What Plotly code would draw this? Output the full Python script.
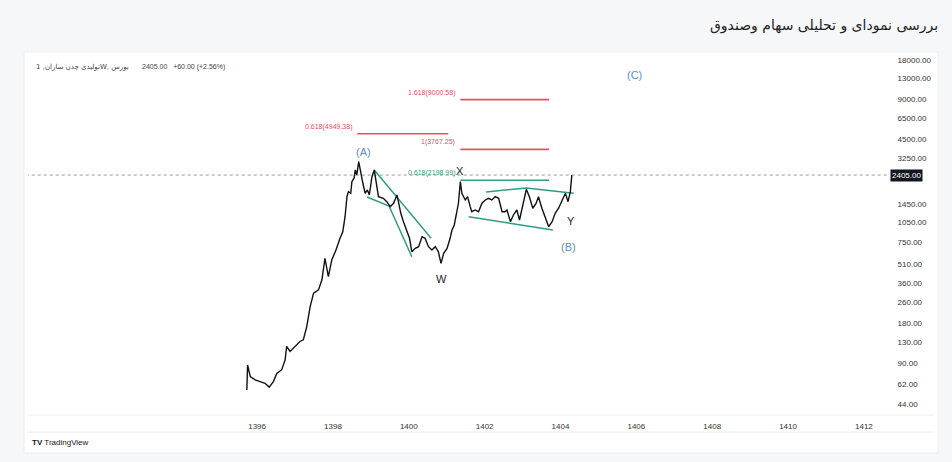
import math
import plotly.graph_objects as go

# ---------------- data ----------------
years = [1395.73, 1395.75, 1395.82, 1395.95, 1396.08, 1396.21, 1396.32, 1396.43, 1396.52, 1396.65,
         1396.74, 1396.78, 1396.87, 1397.00, 1397.13, 1397.22, 1397.31, 1397.40, 1397.49, 1397.62,
         1397.71, 1397.79, 1397.88, 1397.97, 1398.08, 1398.19, 1398.26, 1398.32, 1398.37, 1398.41,
         1398.47, 1398.50, 1398.56, 1398.59, 1398.63, 1398.68, 1398.74, 1398.79, 1398.85, 1398.91,
         1398.96, 1399.03, 1399.09, 1399.14, 1399.20, 1399.33, 1399.42, 1399.51, 1399.60, 1399.69,
         1399.73, 1399.79, 1399.86, 1399.95, 1400.02, 1400.08, 1400.17, 1400.26, 1400.35, 1400.43,
         1400.52, 1400.61, 1400.70, 1400.78, 1400.85, 1400.92, 1401.01, 1401.09, 1401.14, 1401.20,
         1401.25, 1401.31, 1401.36, 1401.40, 1401.49, 1401.55, 1401.62, 1401.66, 1401.75, 1401.84,
         1401.93, 1402.02, 1402.10, 1402.19, 1402.28, 1402.37, 1402.46, 1402.54, 1402.59, 1402.68,
         1402.76, 1402.85, 1402.92, 1403.01, 1403.10, 1403.18, 1403.27, 1403.36, 1403.42, 1403.51,
         1403.60, 1403.69, 1403.78, 1403.86, 1403.95, 1404.04, 1404.13, 1404.20, 1404.26, 1404.30]
prices = [56, 87, 71, 67, 65, 63, 59, 65, 75, 80,
          95, 120, 110, 120, 131, 135, 170, 241, 305, 323,
          385, 561, 407, 545, 649, 800, 893, 1161, 1648, 1799,
          1750, 2143, 2286, 2630, 2410, 3040, 2410, 2084, 1750, 1854,
          1698, 2339, 2630, 2084, 1648, 1603, 1510, 1384, 1469, 1698,
          1469, 1233, 1065, 920, 796, 630, 668, 687, 819, 796,
          687, 649, 687, 630, 514, 612, 668, 796, 920, 1005,
          1233, 1469, 2150, 1750, 1556, 1648, 1384, 1268, 1306, 1268,
          1469, 1556, 1603, 1556, 1648, 1603, 1268, 1268, 1306, 1065,
          1197, 1306, 1096, 1469, 1875, 1648, 1346, 1469, 1648, 1346,
          1130, 975, 1065, 1233, 1346, 1556, 1750, 1510, 1799, 2405]

last_price = 2405.00
change_text = "+60.00 (+2.56%)"
symbol_text = "تولیدی چدن سازان, 1W, بورس"

y_tick_values = [44, 62, 90, 130, 180, 260, 360, 510, 750, 1050, 1450, 3250, 4500, 6500, 9000, 13000, 18000]
x_tick_values = [1396, 1398, 1400, 1402, 1404, 1406, 1408, 1410, 1412]

# Fibonacci levels
fib_values = [9000.58, 4949.38, 3767.25, 2198.99]
fib_labels = ["1.618(9000.58)", "0.618(4949.38)", "1(3767.25)", "0.618(2198.99)"]
fib_start = [1401.36, 1398.64, 1401.36, 1401.36]
fib_end = [1403.70, 1401.04, 1403.70, 1403.70]
fib_kind = ["ext", "ext", "ext", "ret"]

# trend / channel lines (year, price)
trend_lines = [
    ([1399.09, 1400.59], [2630, 796]),
    ([1398.90, 1399.48, 1400.08], [1640, 1400, 577]),
    ([1402.04, 1403.10, 1404.35], [1790, 1919, 1750]),
    ([1401.58, 1403.80], [1161, 920]),
]

# wave labels (text, year, price, kind)
wave_labels = [
    ("(A)", 1398.80, 3597, "blue"),
    ("X", 1401.36, 2582, "dark"),
    ("W", 1400.85, 391, "dark"),
    ("Y", 1404.28, 1078, "dark"),
    ("(B)", 1404.21, 684, "blue"),
    ("(C)", 1405.95, 13840, "blue"),
]

# ---------------- styling ----------------
RED = "#e8505f"
GREEN = "#2f9c86"
BLUE = "#5b8fbf"
DARK = "#222222"
FONT = "Liberation Sans, Arial, sans-serif"

W, H = 952, 462
ML, MR, MT, MB = 28, 65, 55, 47
PW = W - ML - MR
PH = H - MT - MB


def px_to_paper_x(px):
    return (px - ML) / PW


def px_to_paper_y(py):
    return (H - MB - py) / PH


fig = go.Figure()

# dotted last price line
fig.add_trace(go.Scatter(x=[1389.9, 1412.7], y=[last_price, last_price], mode="lines",
                         line=dict(color="#9a9a9a", width=1, dash="dot"),
                         hoverinfo="skip", showlegend=False))

# fib level lines
for v, s, e, k in zip(fib_values, fib_start, fib_end, fib_kind):
    fig.add_trace(go.Scatter(x=[s, e], y=[v, v], mode="lines",
                             line=dict(color=RED if k == "ext" else GREEN, width=1.6),
                             hoverinfo="skip", showlegend=False))

# trend lines
for xs, ys in trend_lines:
    fig.add_trace(go.Scatter(x=xs, y=ys, mode="lines",
                             line=dict(color=GREEN, width=1.5),
                             hoverinfo="skip", showlegend=False))

# price series
fig.add_trace(go.Scatter(x=years, y=prices, mode="lines",
                         line=dict(color="#111111", width=1.4),
                         hoverinfo="skip", showlegend=False))

annotations = []
for v, lab, s, k in zip(fib_values, fib_labels, fib_start, fib_kind):
    annotations.append(dict(x=s, y=math.log10(v), xref="x", yref="y", text=lab,
                            showarrow=False, xanchor="right", yanchor="bottom",
                            xshift=-3, yshift=1,
                            font=dict(size=7, color=RED if k == "ext" else GREEN, family=FONT)))

for txt, xv, pv, kind in wave_labels:
    annotations.append(dict(x=xv, y=math.log10(pv), xref="x", yref="y", text=txt,
                            showarrow=False, xanchor="center", yanchor="middle",
                            font=dict(size=11, color=BLUE if kind == "blue" else DARK, family=FONT)))

# last price box on axis
annotations.append(dict(x=px_to_paper_x(890), y=math.log10(last_price), xref="paper", yref="y",
                        text="%.2f" % last_price, showarrow=False, xanchor="left", yanchor="middle",
                        bgcolor="#131722", borderpad=1,
                        font=dict(size=8, color="white", family=FONT)))

# header inside chart
annotations.append(dict(x=px_to_paper_x(34), y=px_to_paper_y(67), xref="paper", yref="paper",
                        text=symbol_text, showarrow=False,
                        xanchor="left", yanchor="middle",
                        font=dict(size=7, color="#444", family="DejaVu Sans")))
annotations.append(dict(x=px_to_paper_x(140), y=px_to_paper_y(67), xref="paper", yref="paper",
                        text="%.2f&nbsp;&nbsp;&nbsp;%s" % (last_price, change_text), showarrow=False,
                        xanchor="left", yanchor="middle",
                        font=dict(size=7, color="#444", family=FONT)))

# page title
annotations.append(dict(x=px_to_paper_x(940), y=px_to_paper_y(25), xref="paper", yref="paper",
                        text="بررسی نمودای و تحلیلی سهام وصندوق", showarrow=False,
                        xanchor="right", yanchor="middle",
                        font=dict(size=14, color="#222", family="DejaVu Sans")))

# TradingView logo
annotations.append(dict(x=px_to_paper_x(30), y=px_to_paper_y(442), xref="paper", yref="paper",
                        text="<b>TV</b> TradingView", showarrow=False,
                        xanchor="left", yanchor="middle",
                        font=dict(size=8, color="#131722", family=FONT)))

shapes = [
    # card
    dict(type="rect", xref="paper", yref="paper",
         x0=px_to_paper_x(24), x1=px_to_paper_x(938), y0=px_to_paper_y(453), y1=px_to_paper_y(52),
         fillcolor="white", line=dict(color="#eceef1", width=1), layer="below"),
    # separators
    dict(type="line", xref="paper", yref="paper", x0=px_to_paper_x(28), x1=px_to_paper_x(933),
         y0=px_to_paper_y(415), y1=px_to_paper_y(415), line=dict(color="#eceef1", width=1)),
    dict(type="line", xref="paper", yref="paper", x0=px_to_paper_x(28), x1=px_to_paper_x(933),
         y0=px_to_paper_y(432), y1=px_to_paper_y(432), line=dict(color="#eceef1", width=1)),
]

fig.update_layout(
    width=W, height=H,
    margin=dict(l=ML, r=MR, t=MT, b=MB),
    paper_bgcolor="#f6f7f9",
    plot_bgcolor="rgba(0,0,0,0)",
    showlegend=False,
    annotations=annotations,
    shapes=shapes,
    xaxis=dict(range=[1389.96, 1412.61], tickvals=x_tick_values,
               ticktext=[str(v) for v in x_tick_values],
               showgrid=False, zeroline=False, showline=False,
               ticks="outside", ticklen=3, tickcolor="rgba(0,0,0,0)",
               tickfont=dict(size=8, color="#333", family=FONT)),
    yaxis=dict(type="log", side="right", range=[1.559, 4.293],
               tickvals=y_tick_values, ticktext=["%.2f" % v for v in y_tick_values],
               showgrid=False, zeroline=False, showline=False,
               ticks="outside", ticklen=8, tickcolor="rgba(0,0,0,0)",
               tickfont=dict(size=8, color="#333", family=FONT)),
)

fig.write_html("out.html")
